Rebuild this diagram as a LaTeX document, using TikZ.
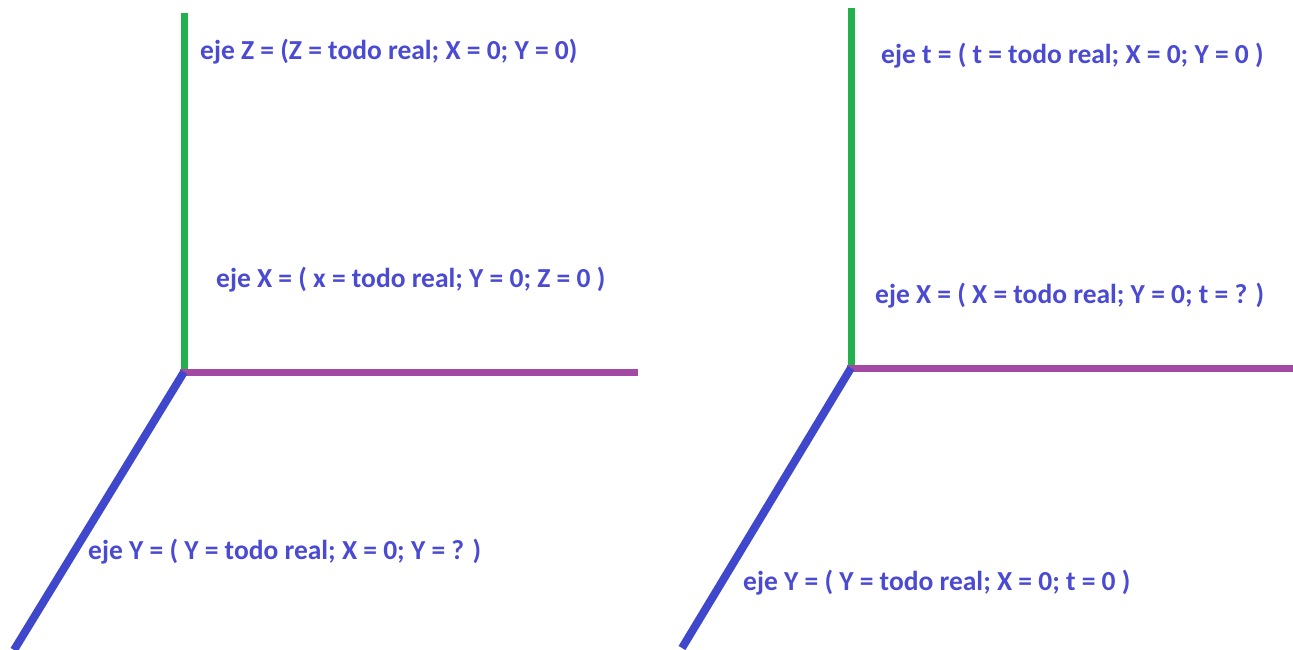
\documentclass[tikz,border=0pt]{standalone}
\usepackage{fontspec}
\setmainfont{Carlito}
\definecolor{axgreen}{HTML}{22B14C}
\definecolor{axpurple}{HTML}{A349A4}
\definecolor{axblue}{HTML}{3F48CC}
\definecolor{lbl}{HTML}{4A4AD2}
\begin{document}
\begin{tikzpicture}[x=1pt,y=-1pt,
  axis/.style={line width=7pt},
  zax/.style={axis,draw=axgreen},
  xax/.style={axis,draw=axpurple},
  yax/.style={axis,draw=axblue,line width=8pt},
  lab/.style={anchor=west,inner sep=0pt,text=lbl,font=\fontsize{27.5}{30}\selectfont\bfseries}]
\useasboundingbox (0,0) rectangle (1293,650);
% left
\coordinate (o1) at (184,372);
\coordinate (z1) at (184,13);
\coordinate (x1) at (638,372);
\coordinate (y1) at (14,650);
\draw[zax] (o1) -- (z1);
\draw[xax] (180,372) -- (x1);
\draw[yax] (o1) -- (y1);
% right
\coordinate (o2) at (851,368);
\coordinate (z2) at (851,8);
\coordinate (x2) at (1293,368);
\coordinate (y2) at (682,648);
\draw[zax] (o2) -- (z2);
\draw[xax] (847,368) -- (x2);
\draw[yax] (o2) -- (y2);
% labels
\node[lab] (t1) at (200,52) {eje Z = (Z = todo real; X = 0; Y = 0)};
\node[lab] (t2) at (216,280) {eje X = ( x = todo real; Y = 0; Z = 0 )};
\node[lab] (t3) at (88,552) {eje Y = ( Y = todo real; X = 0; Y = ? )};
\node[lab] (t4) at (881,56) {eje t = ( t = todo real; X = 0; Y = 0 )};
\node[lab] (t5) at (875,296) {eje X = ( X = todo real; Y = 0; t = ? )};
\node[lab] (t6) at (743,583) {eje Y = ( Y = todo real; X = 0; t = 0 )};
\end{tikzpicture}
\end{document}
